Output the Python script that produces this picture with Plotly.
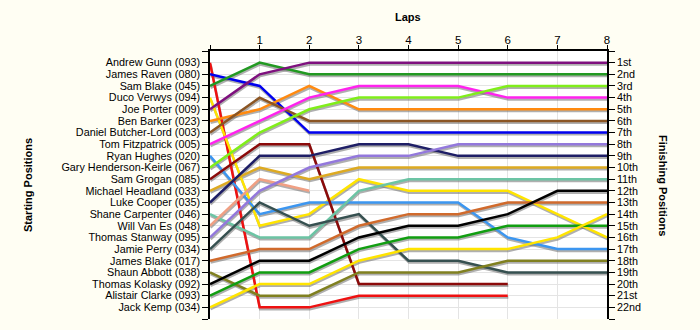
import plotly.graph_objects as go

# Grid positions (row labels) and lap count
starting_grid = [
    "Andrew Gunn (093)", "James Raven (080)", "Sam Blake (045)", "Duco Verwys (094)",
    "Joe Porter (009)", "Ben Barker (023)", "Daniel Butcher-Lord (003)",
    "Tom Fitzpatrick (005)", "Ryan Hughes (020)", "Gary Henderson-Keirle (067)",
    "Sam Grogan (085)", "Michael Headland (033)", "Luke Cooper (035)",
    "Shane Carpenter (046)", "Will Van Es (048)", "Thomas Stanway (095)",
    "Jamie Perry (034)", "James Blake (017)", "Shaun Abbott (038)",
    "Thomas Kolasky (092)", "Alistair Clarke (093)", "Jack Kemp (034)",
]
finishing_labels = [
    "1st", "2nd", "3rd", "4th", "5th", "6th", "7th", "8th", "9th", "10th", "11th",
    "12th", "13th", "14th", "15th", "16th", "17th", "18th", "19th", "20th", "21st", "22nd",
]
lap_labels = ["1", "2", "3", "4", "5", "6", "7", "8"]

# Running position of each driver at lap 0 (grid), 1, 2, ... (shorter lists = retired)
gunn = [1, 22, 22, 21, 21, 21, 21]
raven = [2, 3, 7, 7, 7, 7, 7, 7, 7]
sam_blake = [3, 1, 2, 2, 2, 2, 2, 2, 2]
verwys = [4, 15, 14, 11, 12, 12, 12, 14, 16]
porter = [5, 2, 1, 1, 1, 1, 1, 1, 1]
barker = [6, 5, 3, 5, 5, 5, 5, 5, 5]
butcher_lord = [7, 4, 6, 6, 6, 6, 6, 6, 6]
fitzpatrick = [8, 6, 4, 3, 3, 3, 4, 4, 4]
hughes = [9, 14, 13, 13, 13, 13, 16, 17, 17]
henderson_keirle = [10, 7, 5, 4, 4, 4, 3, 3, 3]
grogan = [11, 8, 8, 20, 20, 20, 20]
headland = [12, 10, 11, 10, 10, 10, 10, 10, 10]
cooper = [13, 9, 9, 8, 8, 9, 9, 9, 9]
carpenter = [14, 16, 16, 12, 11, 11, 11, 11, 11]
van_es = [15, 11, 12]
stanway = [16, 12, 10, 9, 9, 8, 8, 8, 8]
perry = [17, 13, 15, 14, 18, 18, 19, 19, 19]
james_blake = [18, 17, 17, 15, 14, 14, 13, 13, 13]
abbott = [19, 21, 21, 19, 19, 19, 18, 18, 18]
kolasky = [20, 18, 18, 16, 15, 15, 14, 12, 12]
clarke = [21, 19, 19, 17, 16, 16, 15, 15, 15]
kemp = [22, 20, 20, 18, 17, 17, 17, 16, 14]

race = [
    gunn, raven, sam_blake, verwys, porter, barker, butcher_lord, fitzpatrick,
    hughes, henderson_keirle, grogan, headland, cooper, carpenter, van_es,
    stanway, perry, james_blake, abbott, kolasky, clarke, kemp,
]

line_colors = [
    "#EE1111", "#0000EE", "#229922", "#FFE400", "#7E107E", "#FF8A10", "#8B5523",
    "#FF22EE", "#3C96F0", "#80EE1A", "#8B0A0A", "#DDAA22", "#1E1E66", "#6CC4A4",
    "#F0A084", "#9378DC", "#365050", "#D06A2C", "#808020", "#000000", "#119E11",
    "#FFE400",
]

FONT = "Liberation Sans, Arial, sans-serif"
N_ROWS = len(starting_grid)
N_LAPS = len(lap_labels)

# Pixel geometry of the plot box, used to place the drop shadow and titles
PLOT_L, PLOT_R, PLOT_T, PLOT_B = 210, 607, 51, 319
FIG_W, FIG_H = 700, 330
px_y = (N_ROWS + 1) / (PLOT_B - PLOT_T)
px_x = N_LAPS / (PLOT_R - PLOT_L)

fig = go.Figure()

# soft grey drop shadow under every line
for pos in race:
    laps = list(range(len(pos)))
    fig.add_trace(go.Scatter(
        x=[l + 0.6 * px_x for l in laps], y=[p + 1.8 * px_y for p in pos],
        mode="lines", line=dict(color="rgba(110,110,110,0.55)", width=2.5),
        hoverinfo="skip", showlegend=False,
    ))

for name, pos, col in zip(starting_grid, race, line_colors):
    fig.add_trace(go.Scatter(
        x=list(range(len(pos))), y=pos, mode="lines", name=name,
        line=dict(color=col, width=2.5), showlegend=False,
    ))

# carrier for the right-hand axis
fig.add_trace(go.Scatter(x=[None], y=[None], yaxis="y2", showlegend=False))


def page_to_paper(px, py):
    """Convert page pixel coordinates (from top-left) to paper fractions."""
    return ((px - PLOT_L) / (PLOT_R - PLOT_L),
            ((FIG_H - py) - (FIG_H - PLOT_B)) / (PLOT_B - PLOT_T))


def title(text, px, py, angle=0):
    x, y = page_to_paper(px, py)
    return dict(text=f"<b>{text}</b>", x=x, y=y, xref="paper", yref="paper",
                xanchor="center", yanchor="middle", textangle=angle,
                showarrow=False, font=dict(size=11, family=FONT))


tick_rows = list(range(0, N_ROWS + 2))
label_font = dict(size=10.8, family=FONT, color="#000000")
fig.update_layout(
    width=FIG_W, height=FIG_H,
    margin=dict(l=PLOT_L, r=FIG_W - PLOT_R, t=PLOT_T, b=FIG_H - PLOT_B),
    paper_bgcolor="#FFFEF3", plot_bgcolor="#FFFFFF",
    font=dict(family=FONT, size=11, color="#000000"),
    xaxis=dict(
        side="top", range=[0, N_LAPS],
        tickvals=list(range(0, N_LAPS + 1)), ticktext=[""] + lap_labels,
        ticks="outside", ticklen=4, tickcolor="#000000", ticklabelstandoff=-3,
        showline=True, linecolor="#000000", linewidth=1.5,
        showgrid=True, gridcolor="#E4E4E4", gridwidth=1, zeroline=False,
        tickfont=dict(size=11.5, family=FONT),
    ),
    yaxis=dict(
        range=[N_ROWS + 1, 0],
        tickvals=tick_rows, ticktext=[""] + starting_grid + [""],
        ticks="outside", ticklen=6, tickcolor="#000000",
        showline=True, linecolor="#000000", linewidth=1.5,
        showgrid=True, gridcolor="#E4E4E4", gridwidth=1, zeroline=False,
        tickfont=label_font,
    ),
    yaxis2=dict(
        overlaying="y", side="right", range=[N_ROWS + 1, 0],
        tickvals=tick_rows, ticktext=[""] + finishing_labels + [""],
        ticks="outside", ticklen=6, tickcolor="#000000",
        showline=True, linecolor="#000000", linewidth=1.5,
        showgrid=False, zeroline=False, tickfont=label_font,
    ),
    annotations=[
        title("Laps", 408, 17),
        title("Starting Positions", 28, 185, -90),
        title("Finishing Positions", 663, 185, 90),
    ],
)

fig.write_html("out.html")
